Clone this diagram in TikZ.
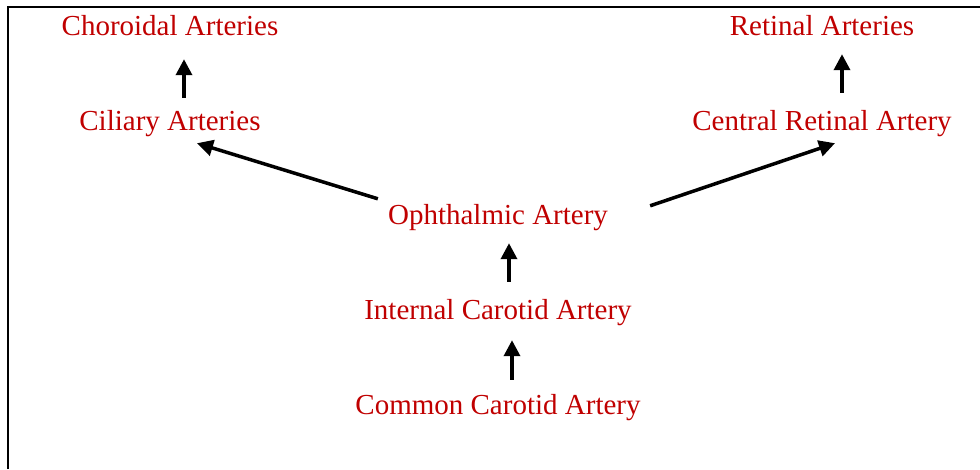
\documentclass[tikz,border=0pt]{standalone}
\usepackage{fontspec}
\setmainfont{Liberation Serif}
\usetikzlibrary{arrows.meta}
\definecolor{arteryRed}{HTML}{C00000}
\tikzset{
  flow/.style={-{Triangle[length=16pt,width=16pt]}, line width=3.5pt, black},
  frame/.style={line width=2.6pt, black},
  lbl/.style={arteryRed, anchor=base, inner sep=0pt, text height=20pt, text depth=7pt,
    font=\fontsize{29}{34}\selectfont},
}

\begin{document}
\begin{tikzpicture}[x=1pt, y=1pt]
  \useasboundingbox (0,0) rectangle (980,-469);
  \draw[frame] (8,-469) -- (8,-7) -- (980,-7);
  % top row
  \node[lbl] (cho) at (170,-35)  {Choroidal Arteries};
  \node[lbl] (ret) at (822,-35)  {Retinal Arteries};
  % second row
  \node[lbl] (cil) at (170,-130) {Ciliary Arteries};
  \node[lbl] (crt) at (822,-130) {Central Retinal Artery};
  % trunk
  \node[lbl] (oph) at (498,-224) {Ophthalmic Artery};
  \node[lbl] (ica) at (498,-319) {Internal Carotid Artery};
  \node[lbl] (cca) at (498,-414) {Common Carotid Artery};
  \draw[flow] ([xshift=14pt,yshift=14pt]cca.north) -- ([xshift=14pt,yshift=-14pt]ica.south);
  \draw[flow] ([xshift=11pt,yshift=17pt]ica.north) -- ([xshift=11pt,yshift=-12pt]oph.south);
  \draw[flow] ([xshift=-10pt,yshift=5pt]oph.north west) -- ([xshift=27pt,yshift=-6pt]cil.south);
  \draw[flow] ([xshift=42pt,yshift=-2pt]oph.north east) -- ([xshift=13pt,yshift=-6pt]crt.south);
  \draw[flow] ([xshift=14pt,yshift=12pt]cil.north) -- ([xshift=14pt,yshift=-17pt]cho.south);
  \draw[flow] ([xshift=20pt,yshift=17pt]crt.north) -- ([xshift=20pt,yshift=-12pt]ret.south);
\end{tikzpicture}
\end{document}
